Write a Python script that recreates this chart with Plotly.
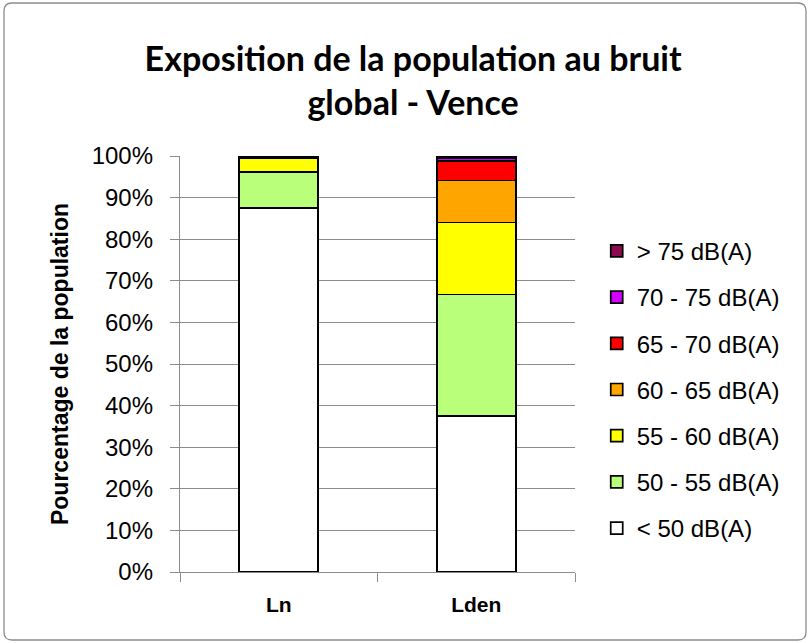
import plotly.graph_objects as go

# categories (x axis)
indicateurs = ["Ln", "Lden"]

# share of population per noise band (%)
lt_50 = [87.5, 37.5]
b50_55 = [8.7, 29.2]
b55_60 = [3.3, 17.3]
b60_65 = [0.5, 10.1]
b65_70 = [0.0, 4.7]
b70_75 = [0.0, 0.7]
gt_75 = [0.0, 0.4]

series = [
    ("< 50 dB(A)", lt_50, "#ffffff"),
    ("50 - 55 dB(A)", b50_55, "#b9ff79"),
    ("55 - 60 dB(A)", b55_60, "#ffff00"),
    ("60 - 65 dB(A)", b60_65, "#ffa500"),
    ("65 - 70 dB(A)", b65_70, "#ff0000"),
    ("70 - 75 dB(A)", b70_75, "#d200ff"),
    ("> 75 dB(A)", gt_75, "#8b0a50"),
]

fig = go.Figure()
for i, (name, vals, col) in enumerate(series):
    fig.add_trace(go.Bar(
        x=indicateurs, y=vals, name=name,
        marker=dict(color=col, line=dict(color="#000000", width=1.7)),
        legendgroup=str(i),
        legendrank=100 - i,  # loudest band on top of the legend
    ))

fig.update_layout(
    barmode="stack",
    bargap=0.6,
    width=810, height=643,
    margin=dict(l=180, r=235, t=156, b=71),
    paper_bgcolor="white", plot_bgcolor="white",
    font=dict(family="Liberation Sans, Arial", color="#000000"),
    title=dict(
        text="<b>Exposition de la population au bruit<br>global - Vence</b>",
        x=0.51, xanchor="center", y=1 - 71 / 643, yanchor="middle",
        font=dict(family="Lato", size=34, color="#000000"),
    ),
    legend=dict(
        x=1.055, xanchor="left", y=0.825, yanchor="top",
        traceorder="grouped", tracegroupgap=12,
        font=dict(size=24),
        itemwidth=30,
    ),
    showlegend=True,
)

fig.update_yaxes(
    range=[0, 100], dtick=10, ticksuffix="%",
    showgrid=True, gridcolor="#8c8c8c", gridwidth=1.3,
    showline=True, linecolor="#8c8c8c", linewidth=1.3,
    ticks="outside", ticklen=9, tickcolor="#8c8c8c",
    tickfont=dict(size=24), ticklabelstandoff=12,
    title=dict(text="<b>Pourcentage de la population</b>", font=dict(size=23), standoff=16),
    zeroline=False,
)
fig.update_xaxes(
    showline=True, linecolor="#8c8c8c", linewidth=1.3,
    ticks="outside", ticklen=9, tickcolor="#8c8c8c", tickson="boundaries",
    tickfont=dict(size=21), ticklabelstandoff=14,
    tickvals=indicateurs, ticktext=["<b>Ln</b>", "<b>Lden</b>"],
)

# rounded outer frame of the chart (page px -> paper coords)
def px_x(p):
    return (p - 180) / 395


def px_y(p):
    return (572 - p) / 416


x0, x1, y0, y1 = px_x(4), px_x(806), px_y(640), px_y(3)
rx, ry = 8 / 395, 8 / 416
frame = (
    f"M {x0 + rx},{y1} L {x1 - rx},{y1} Q {x1},{y1} {x1},{y1 - ry} "
    f"L {x1},{y0 + ry} Q {x1},{y0} {x1 - rx},{y0} "
    f"L {x0 + rx},{y0} Q {x0},{y0} {x0},{y0 + ry} "
    f"L {x0},{y1 - ry} Q {x0},{y1} {x0 + rx},{y1} Z"
)
fig.add_shape(type="path", xref="paper", yref="paper", path=frame,
              line=dict(color="#8c8c8c", width=1.3))

# drop the default 8px body margin so the figure sits at the page corner
fig.write_html("out.html", config={"displayModeBar": False},
               post_script="document.body.style.margin='0px';")
